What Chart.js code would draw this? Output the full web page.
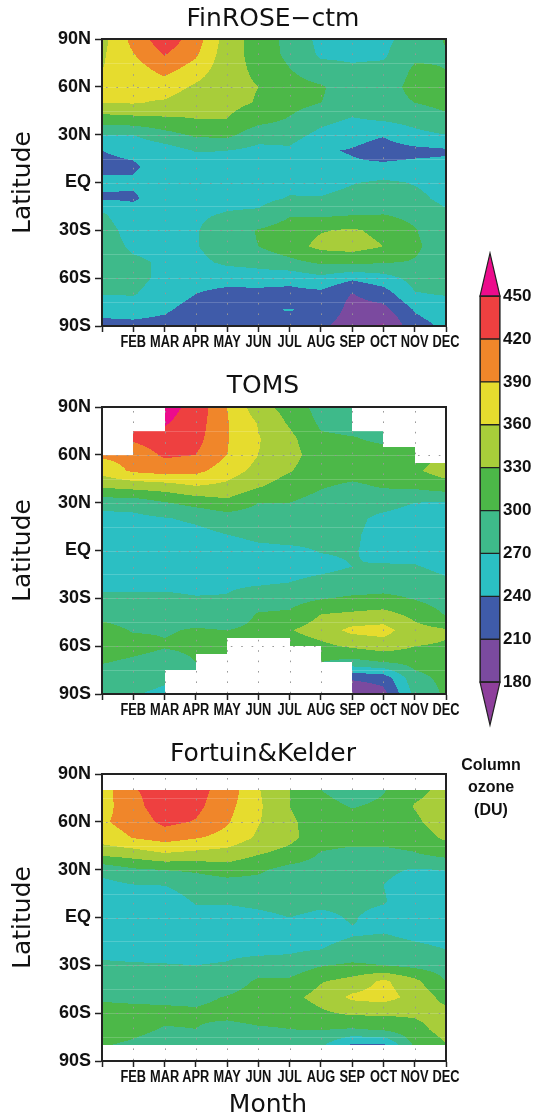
<!DOCTYPE html>
<html><head><meta charset="utf-8">
<script src="https://cdn.jsdelivr.net/npm/chart.js@4.4.1/dist/chart.umd.min.js"></script>
<style>
html,body{margin:0;padding:0;background:#fff;}
body{width:543px;height:1114px;position:relative;overflow:hidden;}
canvas{position:absolute;}
</style></head><body>
<canvas id="p1" width="543" height="368" style="left:0;top:0"></canvas>
<canvas id="p2" width="543" height="368" style="left:0;top:368px"></canvas>
<canvas id="p3" width="543" height="379" style="left:0;top:735px"></canvas>
<canvas id="cb" width="73" height="500" style="left:470px;top:240px"></canvas>
<script>
// ---------- data ----------
const months = [1,2,3,4,5,6,7,8,9,10,11,12];
const monthLabels = ['', 'FEB','MAR','APR','MAY','JUN','JUL','AUG','SEP','OCT','NOV','DEC'];
const latitudes = [90,80,70,60,50,40,30,20,10,0,-10,-20,-30,-40,-50,-60,-70,-80,-90];
const latTicks = [-90,-60,-30,0,30,60,90];
const latTickLabels = ['90S','60S','30S','EQ','30N','60N','90N'];
const levels = [180,210,240,270,300,330,360,390,420,450];
const levelColors = ['#8E3F9C','#7B4A9F','#3F5BA9','#2BBFC3','#3EBA8A','#4CB848','#A8CD3A','#E6DC2E','#F0862A','#EE4040','#EC0C8C'];

// column ozone (DU), one array per month, latitudes 90N -> 90S
const finrose = [
  [350,356,360,372,360,318,270,240,235,245,237,274,283,284,285,284,271,250,230],
  [400,388,375,368,362,322,271,245,237,243,237,250,258,265,275,280,272,252,232],
  [440,421,398,375,356,326,290,255,250,250,252,255,258,262,266,262,255,244,230],
  [405,394,375,355,342,330,305,272,255,252,256,266,268,268,262,250,240,228,222],
  [345,342,340,338,338,330,308,270,258,256,262,272,285,288,276,250,232,226,220],
  [318,320,325,330,328,312,282,262,258,258,262,275,302,300,280,255,230,238,222],
  [290,292,302,312,310,298,282,265,258,262,272,297,314,318,292,250,230,241,225],
  [262,266,282,303,300,280,262,243,249,258,272,294,328,338,305,262,232,236,218],
  [258,265,275,285,290,268,250,238,244,268,280,298,334,342,308,245,209,198,190],
  [262,266,278,285,288,275,242,228,245,275,285,300,322,330,302,258,225,200,175],
  [285,295,305,310,300,282,262,232,248,268,278,292,302,305,298,280,268,242,230],
  [302,298,300,312,308,294,270,236,248,258,262,275,280,285,288,282,272,255,245]
];
const toms = [
  [null,null,null,395,372,333,283,258,252,250,255,262,275,292,310,315,302,285,282],
  [null,null,425,400,395,340,283,262,255,252,255,260,276,288,298,310,295,282,272],
  [462,453,438,425,402,345,298,268,258,253,255,262,276,290,298,302,288,275,264],
  [440,435,430,420,398,358,310,275,262,255,256,260,272,290,302,305,null,null,null],
  [390,392,392,390,375,352,322,285,270,260,258,265,272,285,300,305,null,null,null],
  [342,358,362,360,350,332,300,285,275,265,258,266,285,302,305,null,null,null,null],
  [318,326,338,340,332,315,300,288,278,266,262,270,288,305,328,312,null,null,null],
  [288,295,305,315,312,302,290,282,275,271,265,275,298,330,345,322,300,null,null],
  [285,290,302,310,310,295,285,278,275,272,270,278,305,335,368,335,290,215,178],
  [null,null,295,310,312,302,282,262,258,262,272,282,308,340,372,345,300,222,200],
  [null,null,null,318,325,305,270,255,252,258,272,285,298,322,340,330,310,290,278],
  [null,null,null,null,345,315,268,252,250,252,262,275,285,298,333,328,315,308,305]
];
const fortuin = [
  [null,375,378,386,375,338,280,260,255,253,255,262,274,283,295,312,315,302,null],
  [null,418,410,402,391,345,296,268,258,255,256,262,272,283,293,310,308,295,null],
  [null,432,438,428,402,358,301,270,258,255,256,263,271,282,292,308,298,285,null],
  [null,430,428,418,392,352,305,280,272,262,256,262,270,280,292,305,300,285,null],
  [null,408,400,393,380,348,315,285,272,262,257,264,272,282,302,310,288,285,null],
  [null,362,365,362,355,332,305,288,275,265,258,262,282,305,315,315,296,288,null],
  [null,330,330,335,338,320,290,282,278,270,262,265,282,305,322,312,300,285,null],
  [null,300,310,315,312,298,288,280,275,265,262,270,298,328,340,325,302,275,null],
  [null,285,298,310,310,292,282,278,275,272,268,278,305,340,366,335,298,235,null],
  [null,298,305,312,310,292,275,270,272,262,270,280,300,366,372,335,305,235,null],
  [null,320,332,325,315,298,268,258,255,258,265,275,292,338,350,335,320,305,null],
  [null,340,345,345,335,310,271,255,252,255,262,270,285,300,320,340,342,328,null]
];
// data coverage per month interval (JAN-FEB ... NOV-DEC): northern / southern limit
const finroseNorth = [90,90,90,90,90,90,90,90,90,90,90];
const finroseSouth = [-90,-90,-90,-90,-90,-90,-90,-90,-90,-90,-90];
const tomsNorth = [60,75,90,90,90,90,90,90,75,65,55];
const tomsSouth = [-90,-90,-75,-65,-55,-55,-60,-70,-90,-90,-90];
const fortuinNorth = [80,80,80,80,80,80,80,80,80,80,80];
const fortuinSouth = [-80,-80,-80,-80,-80,-80,-80,-80,-80,-80,-80];
const seamLats = [75,60,45,30,15,0,-15,-30,-45,-60,-75];

// ---------- helpers ----------
function hexToRgb(h){ const n=parseInt(h.slice(1),16); return [(n>>16)&255,(n>>8)&255,n&255]; }
const rgbColors = levelColors.map(hexToRgb);
function bandIndex(v){ let i=0; while(i<levels.length && v>=levels[i]) i++; return i; }
const dark = '#222';

function makePanel(id, o){
  const plugin = {
    id: 'contour_'+id,
    beforeDraw(chart){
      const {ctx, chartArea} = chart;
      const xs = chart.scales.x, ys = chart.scales.y;
      const L = Math.round(chartArea.left), T = Math.round(chartArea.top);
      const W = Math.round(chartArea.right) - L, H = Math.round(chartArea.bottom) - T;
      const img = ctx.createImageData(W, H);
      const d = img.data;
      const cols = o.columns;
      for (let py=0; py<H; py++){
        const lat = ys.getValueForPixel(T+py+0.5);
        let r = 0;
        while (r < latitudes.length-2 && lat < latitudes[r+1]) r++;
        let fr = (latitudes[r]-lat)/(latitudes[r]-latitudes[r+1]);
        fr = Math.max(0, Math.min(1, fr));
        for (let px=0; px<W; px++){
          const m = xs.getValueForPixel(L+px+0.5);
          let c = 0;
          while (c < months.length-2 && m > months[c+1]) c++;
          let fc = (m-months[c])/(months[c+1]-months[c]);
          fc = Math.max(0, Math.min(1, fc));
          if (lat > o.north[c] || lat < o.south[c]) continue;
          const vals = [cols[c][r], cols[c+1][r], cols[c][r+1], cols[c+1][r+1]];
          const ws = [(1-fc)*(1-fr), fc*(1-fr), (1-fc)*fr, fc*fr];
          let s=0, sw=0, n=0, sa=0;
          for (let k=0;k<4;k++){ if (vals[k]!=null){ s+=vals[k]*ws[k]; sw+=ws[k]; n++; sa+=vals[k]; } }
          if (n===0) continue;
          const v = sw>1e-9 ? s/sw : sa/n;
          const col = rgbColors[bandIndex(v)];
          const idx = (py*W+px)*4;
          d[idx]=col[0]; d[idx+1]=col[1]; d[idx+2]=col[2]; d[idx+3]=255;
        }
      }
      ctx.putImageData(img, L, T);
      ctx.save();
      ctx.strokeStyle = 'rgba(255,255,255,0.18)';
      ctx.lineWidth = 1;
      for (const lat of seamLats){
        const y = Math.round(ys.getPixelForValue(lat))+0.5;
        ctx.beginPath(); ctx.moveTo(chartArea.left, y); ctx.lineTo(chartArea.right, y); ctx.stroke();
      }
      ctx.strokeStyle = 'rgba(150,150,150,0.95)';
      ctx.setLineDash([1.6, 8.8]);
      for (const mm of months.slice(1,-1)){
        const x = Math.round(xs.getPixelForValue(mm))+0.5;
        ctx.beginPath(); ctx.moveTo(x, chartArea.top+4); ctx.lineTo(x, chartArea.bottom); ctx.stroke();
      }
      for (const lat of latTicks.slice(1,-1)){
        const y = Math.round(ys.getPixelForValue(lat))+0.5;
        ctx.beginPath(); ctx.moveTo(chartArea.left+4, y); ctx.lineTo(chartArea.right, y); ctx.stroke();
      }
      ctx.restore();
    },
    afterDraw(chart){
      const {ctx, chartArea} = chart;
      const xs = chart.scales.x;
      ctx.save();
      ctx.strokeStyle = dark; ctx.lineWidth = 2;
      ctx.strokeRect(chartArea.left, chartArea.top, chartArea.right-chartArea.left, chartArea.bottom-chartArea.top);
      ctx.fillStyle = '#111';
      ctx.textAlign = 'center'; ctx.textBaseline = 'alphabetic';
      // condensed month labels on the x scale's tick positions
      ctx.font = "bold 16px 'Liberation Sans'";
      months.forEach((m, i) => {
        if (!monthLabels[i]) return;
        ctx.save();
        ctx.translate(xs.getPixelForValue(m), chartArea.bottom + 20.5);
        ctx.scale(0.8, 1);
        ctx.fillText(monthLabels[i], 0, 0);
        ctx.restore();
      });
      ctx.font = "25px 'DejaVu Sans'";
      ctx.fillText(o.title, o.titleX, o.titleY);
      if (o.month){
        ctx.fillText('Month', o.month[0], o.month[1]);
      }
      if (o.unit){
        ctx.font = "bold 16px 'Liberation Sans'";
        ctx.fillText('Column', o.unit[0], o.unit[1]);
        ctx.fillText('ozone', o.unit[0], o.unit[1]+22);
        ctx.fillText('(DU)', o.unit[0], o.unit[1]+45);
      }
      ctx.restore();
    }
  };
  return new Chart(document.getElementById(id), {
    type: 'scatter',
    data: { datasets: [{ data: [], pointRadius: 0 }] },
    options: {
      responsive: false, animation: false, events: [],
      layout: { padding: { left: 0, right: 97, top: 39, bottom: o.padBottom } },
      plugins: { legend: { display: false }, tooltip: { enabled: false } },
      scales: {
        x: {
          type: 'linear', min: months[0], max: months[months.length-1],
          afterBuildTicks: s => { s.ticks = months.map(v => ({ value: v })); },
          afterFit: s => { s.height = 40; },
          ticks: { display: false, autoSkip: false, maxRotation: 0, minRotation: 0,
                   callback: v => monthLabels[months.indexOf(v)] },
          grid: { drawOnChartArea: false, drawTicks: true, tickLength: 6, tickColor: dark, tickWidth: 1.5 },
          border: { display: true, color: dark, width: 2 }
        },
        y: {
          type: 'linear', min: -90, max: 90,
          afterBuildTicks: s => { s.ticks = latTicks.map(v => ({ value: v })); },
          afterFit: s => { s.width = 102; },
          ticks: { padding: 4, color: '#111', font: { family: "'Liberation Sans'", size: 18, weight: 'bold' },
                   callback: v => latTickLabels[latTicks.indexOf(v)] },
          grid: { drawOnChartArea: false, drawTicks: true, tickLength: 7, tickColor: dark, tickWidth: 1.5 },
          border: { display: true, color: dark, width: 2 },
          title: { display: true, text: 'Latitude', color: '#111',
                   font: { family: "'DejaVu Sans'", size: 25, lineHeight: 1 }, padding: { top: 11, bottom: 0 } }
        }
      }
    },
    plugins: [plugin]
  });
}

makePanel('p1', { columns: finrose, north: finroseNorth, south: finroseSouth, title: 'FinROSE\u2212ctm', titleX: 273, titleY: 26, padBottom: 2 });
makePanel('p2', { columns: toms, north: tomsNorth, south: tomsSouth, title: 'TOMS', titleX: 263, titleY: 25, padBottom: 2 });
makePanel('p3', { columns: fortuin, north: fortuinNorth, south: fortuinSouth, title: 'Fortuin&Kelder', titleX: 263, titleY: 26, padBottom: 13,
                  month: [268, 377], unit: [491, 35] });

// ---------- colour bar ----------
const bandDatasets = levels.slice(0,-1).map((lo, i) => ({
  data: [[lo, levels[i+1]]],
  backgroundColor: levelColors[i+1],
  borderColor: dark, borderWidth: 1, borderSkipped: false,
  barPercentage: 1, categoryPercentage: 1, grouped: false
}));
const triPlugin = {
  id: 'triangles',
  afterDatasetsDraw(chart){
    const {ctx, chartArea} = chart;
    const ys = chart.scales.y;
    const l = chartArea.left, r = chartArea.right, mid = (l+r)/2;
    const step = levels[1]-levels[0];
    const tris = [
      [levels[levels.length-1], levels[levels.length-1]+step, levelColors[levelColors.length-1]],
      [levels[0], levels[0]-step, levelColors[0]]
    ];
    ctx.save();
    ctx.strokeStyle = dark; ctx.lineWidth = 1.2; ctx.lineJoin = 'miter';
    for (const [base, apex, col] of tris){
      const yb = ys.getPixelForValue(base), ya = ys.getPixelForValue(apex);
      ctx.beginPath(); ctx.moveTo(l, yb); ctx.lineTo(r, yb); ctx.lineTo(mid, ya); ctx.closePath();
      ctx.fillStyle = col; ctx.fill(); ctx.stroke();
    }
    ctx.strokeRect(l, ys.getPixelForValue(levels[levels.length-1]), r-l,
                   ys.getPixelForValue(levels[0]) - ys.getPixelForValue(levels[levels.length-1]));
    ctx.restore();
  }
};
new Chart(document.getElementById('cb'), {
  type: 'bar',
  data: { labels: ['DU'], datasets: bandDatasets },
  options: {
    responsive: false, animation: false, events: [],
    layout: { padding: { left: 10, right: 0, top: 9, bottom: 15 } },
    plugins: { legend: { display: false }, tooltip: { enabled: false } },
    scales: {
      x: { display: false, stacked: false },
      y: {
        position: 'right', min: levels[0]-30, max: levels[levels.length-1]+30,
        afterBuildTicks: s => { s.ticks = levels.map(v => ({ value: v })); },
        afterFit: s => { s.width = 43; },
        ticks: { padding: 3, color: '#111', font: { family: "'Liberation Sans'", size: 17, weight: 'bold' } },
        grid: { display: false, drawTicks: false },
        border: { display: false }
      }
    }
  },
  plugins: [triPlugin]
});
</script>
</body></html>
